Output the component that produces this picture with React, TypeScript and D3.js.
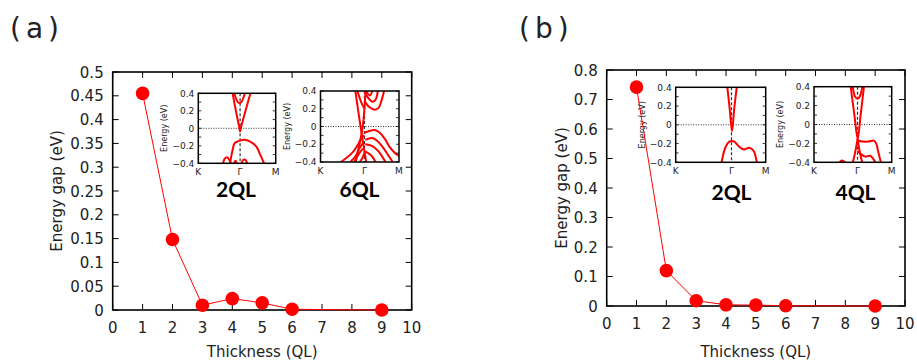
import React from "react";
import * as d3 from "d3";

// ---------- main data ----------
const thicknessA = [1, 2, 3, 4, 5, 6, 9];
const gapA = [0.455, 0.148, 0.01, 0.024, 0.015, 0.0015, 0.0];
const thicknessB = [1, 2, 3, 4, 5, 6, 9];
const gapB = [0.742, 0.12, 0.018, 0.004, 0.003, 0.001, 0.0];

const xTicks = [0, 1, 2, 3, 4, 5, 6, 7, 8, 9, 10];
const yTicksA = [0, 0.05, 0.1, 0.15, 0.2, 0.25, 0.3, 0.35, 0.4, 0.45, 0.5];
const yTicksB = [0, 0.1, 0.2, 0.3, 0.4, 0.5, 0.6, 0.7, 0.8];
const insetYTicks = [-0.4, -0.3, -0.2, -0.1, 0, 0.1, 0.2, 0.3, 0.4];
const insetYLabels = [-0.4, -0.2, 0, 0.2, 0.4];
const kLabels = ["K", "Γ", "M"];

// ---------- inset band data: [k (0=K .. 1=M), energy eV] ----------
type Band = [number, number][];

const bandsA2QL: Band[] = [
  [[0.443, 0.4], [0.49, 0.18], [0.527, 0.02], [0.54, -0.034], [0.555, 0.02], [0.61, 0.2], [0.674, 0.4]],
  [[0.464, 0.4], [0.494, 0.327], [0.523, 0.29], [0.557, 0.3], [0.583, 0.35], [0.6, 0.4]],
  [[0.41, -0.4], [0.44, -0.26], [0.47, -0.17], [0.51, -0.15], [0.54, -0.14], [0.6, -0.13], [0.665, -0.15], [0.75, -0.21], [0.8, -0.3], [0.85, -0.4]],
  [[0.32, -0.4], [0.34, -0.35], [0.37, -0.33], [0.4, -0.36], [0.42, -0.4]],
  [[0.56, -0.4], [0.58, -0.36], [0.61, -0.36], [0.63, -0.4]],
  [[0.46, -0.4], [0.48, -0.37], [0.5, -0.4]],
];

const bandsA6QL: Band[] = [
  [[0.444, 0.4], [0.51, 0.0], [0.582, -0.4]],
  [[0.575, 0.4], [0.545, 0.05], [0.51, -0.15], [0.47, -0.3], [0.45, -0.4]],
  [[0.47, 0.4], [0.53, 0.25], [0.565, 0.2]],
  [[0.56, 0.4], [0.6, 0.33], [0.66, 0.28], [0.7, 0.3], [0.73, 0.4]],
  [[0.565, 0.28], [0.62, 0.22], [0.69, 0.19], [0.74, 0.21], [0.78, 0.3], [0.81, 0.4]],
  [[0.58, 0.4], [0.63, 0.35], [0.66, 0.4]],
  [[0.56, -0.07], [0.62, -0.05], [0.69, -0.04], [0.755, -0.07], [0.82, -0.14], [0.88, -0.23], [0.95, -0.3], [1.0, -0.33]],
  [[0.57, -0.15], [0.66, -0.13], [0.72, -0.16], [0.8, -0.24], [0.86, -0.32], [0.92, -0.4]],
  [[0.57, -0.2], [0.66, -0.22], [0.74, -0.28], [0.8, -0.36], [0.83, -0.4]],
  [[0.57, -0.28], [0.65, -0.33], [0.7, -0.4]],
  [[0.56, -0.1], [0.52, -0.13], [0.48, -0.2], [0.4, -0.3], [0.26, -0.4]],
  [[0.55, -0.18], [0.5, -0.24], [0.45, -0.33], [0.38, -0.4]],
  [[0.54, -0.25], [0.48, -0.32], [0.43, -0.4]],
  [[0.56, -0.3], [0.53, -0.36], [0.5, -0.4]],
];

const bandsB2QL: Band[] = [
  [[0.574, 0.4], [0.6, 0.17], [0.626, -0.068], [0.65, 0.17], [0.678, 0.4]],
  [[0.51, -0.4], [0.551, -0.245], [0.596, -0.18], [0.644, -0.175], [0.7, -0.229], [0.756, -0.263], [0.818, -0.245], [0.867, -0.28], [0.9, -0.39], [0.905, -0.4]],
];

const bandsB4QL: Band[] = [
  [[0.472, 0.4], [0.52, 0.1], [0.562, -0.15], [0.6, 0.1], [0.643, 0.4]],
  [[0.498, 0.4], [0.525, 0.3], [0.545, 0.28], [0.575, 0.28], [0.6, 0.32], [0.622, 0.4]],
  [[0.562, -0.15], [0.54, -0.25], [0.52, -0.33], [0.5, -0.4]],
  [[0.562, -0.15], [0.58, -0.25], [0.6, -0.33], [0.62, -0.4]],
  [[0.56, -0.17], [0.62, -0.18], [0.7, -0.18], [0.77, -0.17], [0.8, -0.2], [0.83, -0.3], [0.86, -0.4]],
  [[0.56, -0.28], [0.6, -0.31], [0.66, -0.34], [0.72, -0.33], [0.76, -0.36], [0.79, -0.4]],
  [[0.33, -0.4], [0.36, -0.38], [0.4, -0.4]],
];

// ---------- layout ----------
const FONT = "DejaVu Sans, sans-serif";

interface InsetSpec {
  x0: number; x1: number; y0: number; y1: number; gamma: number;
  bands: Band[]; label: string; labelX: number; labelY: number; id: string;
}

function Inset({ s }: { s: InsetSpec }) {
  const kx = d3.scaleLinear().domain([0, 1]).range([s.x0, s.x1]);
  const ey = d3.scaleLinear().domain([-0.4, 0.4]).range([s.y1, s.y0]);
  const line = d3.line<[number, number]>().x((d) => kx(d[0])).y((d) => ey(d[1])).curve(d3.curveCatmullRom.alpha(0.5));
  const kPos = [0, s.gamma, 1];
  return (
    <g>
      <defs>
        <clipPath id={s.id}>
          <rect x={s.x0} y={s.y0} width={s.x1 - s.x0} height={s.y1 - s.y0} />
        </clipPath>
      </defs>
      <rect x={s.x0} y={s.y0} width={s.x1 - s.x0} height={s.y1 - s.y0} fill="white" />
      <line x1={s.x0} x2={s.x1} y1={ey(0)} y2={ey(0)} stroke="#000" strokeWidth={0.8} strokeDasharray="1,1.5" />
      <line x1={kx(s.gamma)} x2={kx(s.gamma)} y1={s.y0} y2={s.y1} stroke="#333" strokeWidth={1.2} strokeDasharray="3,2" />
      <g clipPath={`url(#${s.id})`}>
        {s.bands.map((b, i) => (
          <path key={i} d={line(b) || ""} fill="none" stroke="#ff0000" strokeWidth={2} />
        ))}
      </g>
      {insetYTicks.map((t) => (
        <g key={t}>
          <line x1={s.x0} x2={s.x0 + 3} y1={ey(t)} y2={ey(t)} stroke="#000" strokeWidth={0.8} />
          <line x1={s.x1 - 3} x2={s.x1} y1={ey(t)} y2={ey(t)} stroke="#000" strokeWidth={0.8} />
        </g>
      ))}
      <rect x={s.x0} y={s.y0} width={s.x1 - s.x0} height={s.y1 - s.y0} fill="none" stroke="#000" strokeWidth={1.5} />
      {insetYLabels.map((t) => (
        <text key={t} x={s.x0 - 4} y={ey(t) + 3.2} fontSize={9} fontFamily={FONT} textAnchor="end" fill="#222">
          {t === 0 ? "0" : d3.format(".1f")(t)}
        </text>
      ))}
      {kLabels.map((k, i) => (
        <text key={k} x={kx(kPos[i])} y={s.y1 + 11.5} fontSize={9} fontFamily={FONT} textAnchor="middle" fill="#222">
          {k}
        </text>
      ))}
      <text
        transform={`translate(${s.x0 - 31},${(s.y0 + s.y1) / 2}) rotate(-90)`}
        fontSize={8} fontFamily={FONT} textAnchor="middle" fill="#222"
      >
        Energy (eV)
      </text>
      <text x={s.labelX} y={s.labelY} fontSize={21} fontWeight="bold" fontFamily="Lato, sans-serif" textAnchor="middle" fill="#000">
        {s.label}
      </text>
    </g>
  );
}

interface PanelSpec {
  title: string; titleX: number;
  x0: number; x1: number; y0: number; y1: number;
  xs: number[]; ys: number[]; yMax: number; yTicks: number[]; yFmt: (v: number) => string;
  ylabelX: number; insets: InsetSpec[];
}

function Panel({ p }: { p: PanelSpec }) {
  const x = d3.scaleLinear().domain([0, 10]).range([p.x0, p.x1]);
  const y = d3.scaleLinear().domain([0, p.yMax]).range([p.y1, p.y0]);
  const pts: [number, number][] = p.xs.map((v, i) => [v, p.ys[i]]);
  const line = d3.line<[number, number]>().x((d) => x(d[0])).y((d) => y(d[1]));
  return (
    <g>
      <text x={p.titleX} y={38} fontSize={28} fontFamily={FONT} letterSpacing={5} fill="#222">
        {p.title}
      </text>
      {xTicks.map((t) => (
        <g key={"x" + t}>
          <line x1={x(t)} x2={x(t)} y1={p.y1} y2={p.y1 - 6} stroke="#000" strokeWidth={1} />
          <line x1={x(t)} x2={x(t)} y1={p.y0} y2={p.y0 + 6} stroke="#000" strokeWidth={1} />
          <text x={x(t)} y={p.y1 + 23} fontSize={15} fontFamily={FONT} textAnchor="middle" fill="#222">
            {t}
          </text>
        </g>
      ))}
      {p.yTicks.map((t) => (
        <g key={"y" + t}>
          <line x1={p.x0} x2={p.x0 + 6} y1={y(t)} y2={y(t)} stroke="#000" strokeWidth={1} />
          <line x1={p.x1} x2={p.x1 - 6} y1={y(t)} y2={y(t)} stroke="#000" strokeWidth={1} />
          <text x={p.x0 - 9} y={y(t) + 5.5} fontSize={15} fontFamily={FONT} textAnchor="end" fill="#222">
            {p.yFmt(t)}
          </text>
        </g>
      ))}
      <rect x={p.x0} y={p.y0} width={p.x1 - p.x0} height={p.y1 - p.y0} fill="none" stroke="#000" strokeWidth={1.6} />
      {p.insets.map((s) => (
        <Inset key={s.id} s={s} />
      ))}
      <path d={line(pts) || ""} fill="none" stroke="#ff0000" strokeWidth={1} />
      {pts.map((d, i) => (
        <circle key={i} cx={x(d[0])} cy={y(d[1])} r={6.8} fill="#ff0000" />
      ))}
      <text x={(p.x0 + p.x1) / 2} y={357} fontSize={15} fontFamily={FONT} textAnchor="middle" fill="#222">
        Thickness (QL)
      </text>
      <text
        transform={`translate(${p.ylabelX},${(p.y0 + p.y1) / 2}) rotate(-90)`}
        fontSize={15} fontFamily={FONT} textAnchor="middle" fill="#222"
      >
        Energy gap (eV)
      </text>
    </g>
  );
}

const panelA: PanelSpec = {
  title: "(a)", titleX: 10,
  x0: 112.7, x1: 411.7, y0: 72, y1: 310,
  xs: thicknessA, ys: gapA, yMax: 0.5, yTicks: yTicksA,
  yFmt: (v) => (v === 0 ? "0" : d3.format("~g")(+v.toFixed(2))),
  ylabelX: 62,
  insets: [
    { id: "ca1", x0: 198.3, x1: 275.7, y0: 93.3, y1: 163.3, gamma: 0.54, bands: bandsA2QL, label: "2QL", labelX: 236, labelY: 196.5 },
    { id: "ca2", x0: 320.5, x1: 399, y0: 91, y1: 162, gamma: 0.56, bands: bandsA6QL, label: "6QL", labelX: 359.5, labelY: 196.5 },
  ],
};

const panelB: PanelSpec = {
  title: "(b)", titleX: 519,
  x0: 606.7, x1: 905, y0: 70, y1: 306,
  xs: thicknessB, ys: gapB, yMax: 0.8, yTicks: yTicksB,
  yFmt: (v) => (v === 0 ? "0" : d3.format(".1f")(v)),
  ylabelX: 567,
  insets: [
    { id: "cb1", x0: 675.7, x1: 765.7, y0: 87.3, y1: 162.3, gamma: 0.62, bands: bandsB2QL, label: "2QL", labelX: 731.5, labelY: 199.5 },
    { id: "cb2", x0: 814, x1: 891.7, y0: 86.7, y1: 162.3, gamma: 0.56, bands: bandsB4QL, label: "4QL", labelX: 855.5, labelY: 199.5 },
  ],
};

export default function App() {
  return (
    <svg width={917} height={362} style={{ position: "absolute", left: 0, top: 0, background: "white" }}>
      <rect width={917} height={362} fill="white" />
      <Panel p={panelA} />
      <Panel p={panelB} />
    </svg>
  );
}
